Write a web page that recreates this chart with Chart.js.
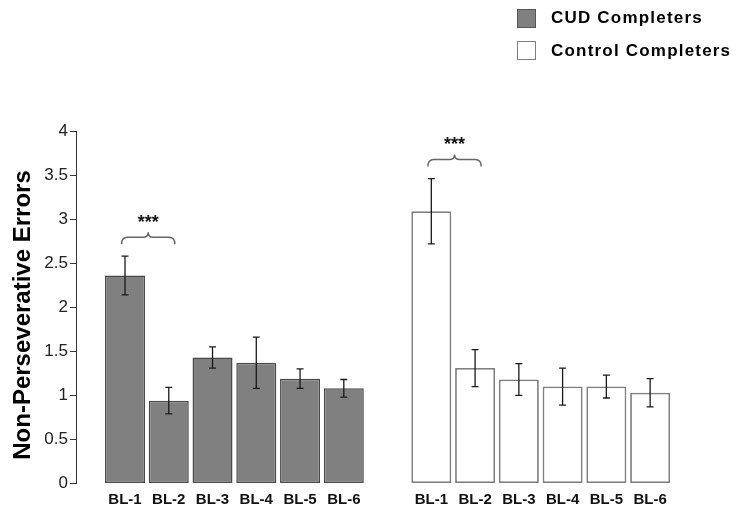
<!DOCTYPE html>
<html>
<head>
<meta charset="utf-8">
<script src="https://cdn.jsdelivr.net/npm/chart.js@4.4.1/dist/chart.umd.min.js"></script>
<style>
	body { margin: 0; background: #fff; }
	#wrap { position: relative; width: 736px; height: 511px; }
	.key { position: absolute; left: 517px; font: bold 17px "Liberation Sans", Arial, sans-serif; letter-spacing: 1.2px; color: #000; }
	.key span { position: absolute; left: 0; width: 17px; height: 17px; border: 1px solid #666; }
	.key b { position: absolute; left: 34px; white-space: nowrap; line-height: 20px; }
</style>
</head>
<body>
<div id="wrap">
	<canvas id="myChart" width="736" height="511"></canvas>
	<div class="key" style="top:9px"><span style="background:#808080;border-color:#555"></span><b style="top:-1px">CUD Completers</b></div>
	<div class="key" style="top:41px"><span style="background:#fff;border-color:#808080"></span><b style="top:0px">Control Completers</b></div>
</div>
<script>
const timepoints = ['BL-1', 'BL-2', 'BL-3', 'BL-4', 'BL-5', 'BL-6'];
const cudMeans = [2.36, 0.94, 1.43, 1.37, 1.19, 1.08];
const cudSEM = [0.22, 0.15, 0.12, 0.29, 0.11, 0.10];
const controlMeans = [3.09, 1.31, 1.18, 1.10, 1.10, 1.03];
const controlSEM = [0.37, 0.21, 0.18, 0.21, 0.13, 0.16];
const yTicks = [0, 0.5, 1, 1.5, 2, 2.5, 3, 3.5, 4];
// BL-1 vs BL-2 difference in each group
const sigPairs = [[0, 1]];
const sigLabel = '***';
const yTitle = 'Non-Perseverative Errors';

const FONT = '"Liberation Sans", Arial, sans-serif';
// one empty slot between the two groups
const xLabels = [...timepoints, '', ...timepoints];
const groupStart = timepoints.length + 1;
const errors = [cudSEM, controlSEM];

const errorBars = {
	id: 'errorBars',
	afterDatasetsDraw(chart) {
		const ctx = chart.ctx;
		const y = chart.scales.y;
		ctx.save();
		ctx.strokeStyle = '#1a1a1a';
		ctx.lineWidth = 1.3;
		chart.data.datasets.forEach((ds, d) => {
			chart.getDatasetMeta(d).data.forEach((bar, i) => {
				let v = ds.data[i].y, e = errors[d][i];
				let top = y.getPixelForValue(v + e), bot = y.getPixelForValue(v - e);
				ctx.beginPath();
				ctx.moveTo(bar.x, top); ctx.lineTo(bar.x, bot);
				ctx.moveTo(bar.x - 3.5, top); ctx.lineTo(bar.x + 3.5, top);
				ctx.moveTo(bar.x - 3.5, bot); ctx.lineTo(bar.x + 3.5, bot);
				ctx.stroke();
			});
		});
		ctx.restore();
	}
};

const braces = {
	id: 'braces',
	afterDatasetsDraw(chart) {
		const ctx = chart.ctx;
		const x = chart.scales.x, y = chart.scales.y;
		ctx.save();
		chart.data.datasets.forEach((ds, d) => {
			sigPairs.forEach(([a, b]) => {
				let hi = Math.max(ds.data[a].y + errors[d][a], ds.data[b].y + errors[d][b]);
				let yl = y.getPixelForValue(hi) - 19;
				let x0 = x.getPixelForValue(ds.data[a].x - 0.08);
				let x1 = x.getPixelForValue(ds.data[b].x + 0.14);
				let xm = (x0 + x1) / 2;
				ctx.strokeStyle = '#666';
				ctx.lineWidth = 1.5;
				ctx.beginPath();
				ctx.moveTo(x0, yl + 7);
				ctx.quadraticCurveTo(x0, yl, x0 + 6, yl);
				ctx.lineTo(xm - 5, yl);
				ctx.quadraticCurveTo(xm, yl, xm, yl - 5);
				ctx.quadraticCurveTo(xm, yl, xm + 5, yl);
				ctx.lineTo(x1 - 6, yl);
				ctx.quadraticCurveTo(x1, yl, x1, yl + 7);
				ctx.stroke();
				ctx.fillStyle = '#111';
				ctx.font = 'bold 18px ' + FONT;
				ctx.textAlign = 'center';
				ctx.textBaseline = 'alphabetic';
				ctx.fillText(sigLabel, xm, yl - 9.5);
			});
		});
		ctx.restore();
	}
};

// axis title, drawn a bit below the axis middle like the original
const yTitlePlugin = {
	id: 'yTitle',
	afterDraw(chart) {
		const ctx = chart.ctx;
		ctx.save();
		ctx.translate(23.5, 315);
		ctx.rotate(-Math.PI / 2);
		ctx.font = 'bold 24px ' + FONT;
		ctx.fillStyle = '#000';
		ctx.textAlign = 'center';
		ctx.textBaseline = 'middle';
		ctx.fillText(yTitle, 0, 0);
		ctx.restore();
	}
};

new Chart(document.getElementById('myChart'), {
	type: 'bar',
	data: {
		datasets: [
			{
				label: 'CUD Completers',
				data: cudMeans.map((v, i) => ({x: i, y: v})),
				backgroundColor: '#808080',
				borderColor: '#4a4a4a',
				borderWidth: 1.5,
				borderSkipped: false,
				grouped: false,
				barPercentage: 0.914,
				categoryPercentage: 1
			},
			{
				label: 'Control Completers',
				data: controlMeans.map((v, i) => ({x: i + groupStart, y: v})),
				backgroundColor: '#ffffff',
				borderColor: '#808080',
				borderWidth: 1.8,
				borderSkipped: false,
				grouped: false,
				barPercentage: 0.914,
				categoryPercentage: 1
			}
		]
	},
	options: {
		responsive: false,
		animation: false,
		layout: { padding: { top: 131, right: 64, left: 0, bottom: 0 } },
		plugins: { legend: { display: false }, tooltip: { enabled: false } },
		scales: {
			x: {
				type: 'linear',
				offset: false,
				min: -1.12,
				max: 12.5,
				grid: { display: false, offset: false },
				border: { display: false },
				afterFit: s => { s.height = 27.5; },
				afterBuildTicks: s => { s.ticks = xLabels.map((l, i) => ({value: i})); },
				ticks: {
					autoSkip: false,
					maxRotation: 0,
					padding: -1,
					color: '#111',
					font: { family: FONT, size: 15, weight: 'bold' },
					callback: v => xLabels[v]
				}
			},
			y: {
				min: 0,
				max: 4,
				afterFit: s => { s.width = 76; },
				afterBuildTicks: s => { s.ticks = yTicks.map(v => ({value: v})); },
				grid: { drawOnChartArea: false, tickLength: 6, color: '#333' },
				border: { color: '#333', width: 1 },
				ticks: { padding: 2, color: '#222', font: { family: FONT, size: 17 }, callback: v => String(v) }
			}
		}
	},
	plugins: [errorBars, braces, yTitlePlugin]
});
</script>
</body>
</html>
